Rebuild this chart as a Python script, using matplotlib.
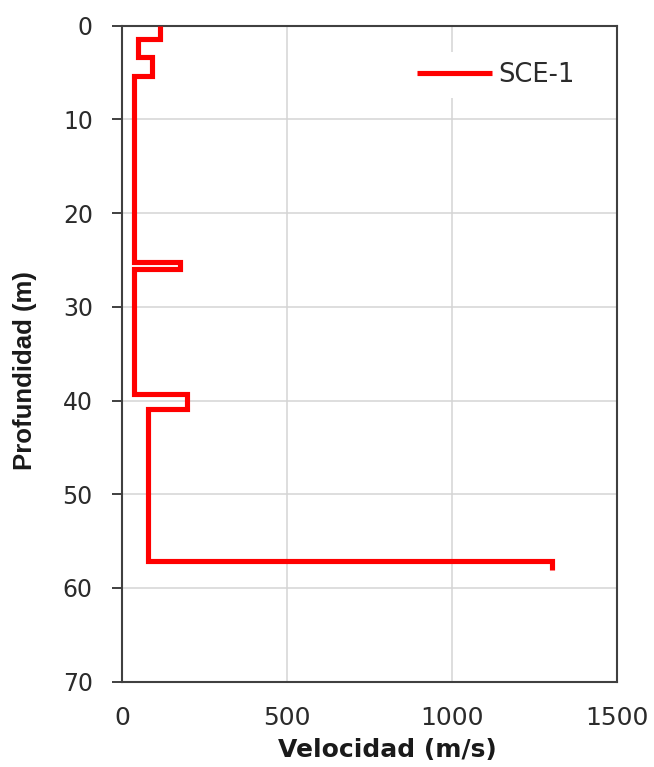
import numpy as np
import matplotlib
matplotlib.use("Agg")
import matplotlib.pyplot as plt

# Layer boundaries (depth, m) and the shear-wave velocity of each layer (m/s)
layer_depths = [0, 1.4, 3.3, 5.4, 25.2, 26.0, 39.3, 40.9, 57.1, 58.1]
layer_velocities = [114, 48, 91, 36, 176, 37, 196, 80, 1302]
series_name = "SCE-1"

x_ticks = [0, 500, 1000, 1500]
y_ticks = [0, 10, 20, 30, 40, 50, 60, 70]

# Step profile: each layer is a vertical segment at its velocity
b = np.asarray(layer_depths, dtype=float)
v = np.asarray(layer_velocities, dtype=float)
prof_v = np.repeat(v, 2)
prof_d = np.column_stack([b[:-1], b[1:]]).ravel()

W, H, DPI = 654, 767, 100
fig = plt.figure(figsize=(W / DPI, H / DPI), dpi=DPI, facecolor="white")
left, right, top, bottom = 122, 617, 25.7, 681.7
ax = fig.add_axes([left / W, 1 - bottom / H, (right - left) / W, (bottom - top) / H])

spine_col = "#404040"
text_col = "#2b2b2b"
grid_col = "#d4d4d4"

ax.plot(prof_v, prof_d, color="#ff0000", lw=3.7, solid_joinstyle="miter",
        solid_capstyle="butt", label=series_name, zorder=3)

ax.set_xlim(0, 1500)
ax.set_ylim(70, 0)
ax.set_xticks(x_ticks)
ax.set_yticks(y_ticks)
ax.grid(True, color=grid_col, lw=1.1, zorder=0)
ax.set_axisbelow(True)

for s in ax.spines.values():
    s.set_color(spine_col)
    s.set_linewidth(1.5)

ax.tick_params(axis="y", direction="out", length=7.5, width=1.4, color=spine_col,
               pad=13.5, labelsize=17, labelcolor=text_col)
ax.tick_params(axis="x", length=0, pad=17.5, labelsize=18, labelcolor=text_col)
for lab in ax.get_xticklabels() + ax.get_yticklabels():
    lab.set_family("DejaVu Sans")

ax.set_xlabel("Velocidad (m/s)", fontsize=18, fontweight="bold",
              family="DejaVu Sans", color="#1a1a1a")
ax.xaxis.set_label_coords(0.536, -0.086)
ax.set_ylabel("Profundidad (m)", fontsize=18.5, fontweight="bold",
              family="Liberation Sans", color="#1a1a1a")
ax.yaxis.set_label_coords(-0.172, 0.4736)

leg = ax.legend(loc="center left", bbox_to_anchor=(0.576, 0.925), frameon=True,
                fancybox=False, framealpha=1, facecolor="white", edgecolor="none",
                borderpad=0.4, borderaxespad=0, handlelength=2.9, handletextpad=0.25,
                prop={"family": "DejaVu Sans", "size": 18.5})
for t in leg.get_texts():
    t.set_color(text_col)

fig.savefig("out.png", dpi=DPI, facecolor="white")
